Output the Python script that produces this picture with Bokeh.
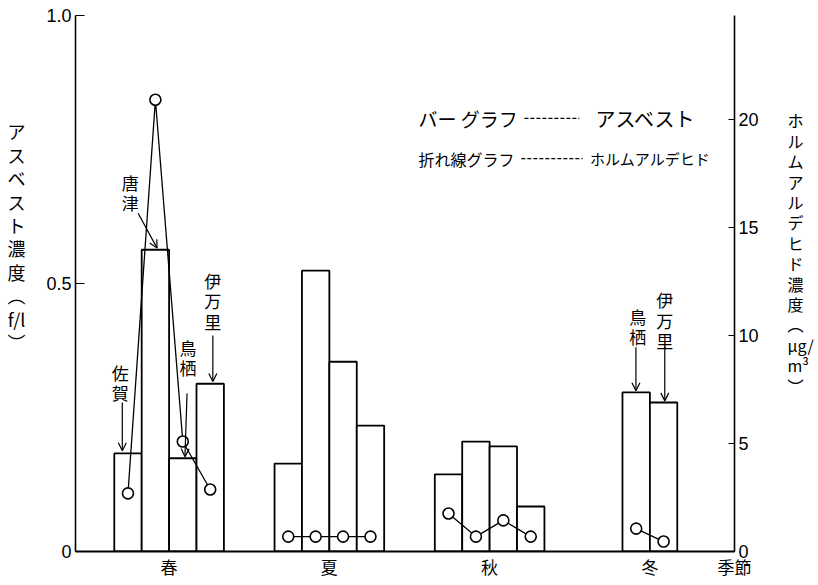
from bokeh.plotting import figure
from bokeh.models import Range1d, LinearAxis, FixedTicker, Arrow, OpenHead, ColumnDataSource
from bokeh.core.properties import value
from bokeh.embed import file_html
from bokeh.resources import INLINE

# ---------------- data ----------------
seasons = ["春", "夏", "秋", "冬"]
season_sites = [
    ["佐賀", "唐津", "鳥栖", "伊万里"],
    ["佐賀", "唐津", "鳥栖", "伊万里"],
    ["佐賀", "唐津", "鳥栖", "伊万里"],
    ["鳥栖", "伊万里"],
]
# asbestos concentration (f/l) - bars, left axis
asbestos = [
    [0.183, 0.563, 0.174, 0.313],
    [0.164, 0.524, 0.354, 0.235],
    [0.144, 0.205, 0.196, 0.084],
    [0.297, 0.278],
]
# formaldehyde concentration (ug/m3) - line, right axis
formaldehyde = [
    [2.69, 20.9, 5.09, 2.87],
    [0.69, 0.69, 0.69, 0.69],
    [1.76, 0.69, 1.44, 0.69],
    [1.06, 0.46],
]
left_ticks = [0, 0.5, 1.0]
left_tick_labels = ["0", "0.5", "1.0"]
right_ticks = [0, 5, 10, 15, 20]
x_axis_name = "季節"

# ---------------- layout constants ----------------
BAR_W = 0.171
X_END = 4.528
JP = "Noto Sans CJK JP"
LAT = "Liberation Sans"

p = figure(width=816, height=581, output_backend="svg", toolbar_location=None,
           x_range=Range1d(0.416, X_END), y_range=Range1d(0, 1.0),
           min_border_left=75, min_border_right=79, min_border_top=15,
           min_border_bottom=30)
p.outline_line_color = None
p.xgrid.visible = False
p.ygrid.visible = False
p.background_fill_color = "white"
p.border_fill_color = "white"
p.extra_y_ranges = {"right": Range1d(0, 24.8)}

# bars and line
for gi, (sites, av, fv) in enumerate(zip(season_sites, asbestos, formaldehyde)):
    n = len(sites)
    xs = [gi + 1 + (j - (n - 1) / 2) * BAR_W for j in range(n)]
    src = ColumnDataSource(dict(x=xs, a=av, f=fv, site=sites))
    p.vbar(x="x", top="a", bottom=0, width=BAR_W, source=src,
           fill_color="white", line_color="black", line_width=1.8)
    p.line(x="x", y="f", source=src, y_range_name="right",
           line_color="black", line_width=1.3)
    p.scatter(x="x", y="f", source=src, y_range_name="right", marker="circle",
              size=11, fill_color="white", line_color="black", line_width=1.6)

# x axis (season names + axis name at right end)
xa = p.xaxis[0]
name_tick = X_END - 0.0005
xa.ticker = FixedTicker(ticks=[1, 2, 3, 4, name_tick])
overrides = {i + 1: s for i, s in enumerate(seasons)}
overrides[name_tick] = x_axis_name
xa.major_label_overrides = overrides
xa.major_tick_in = 0
xa.major_tick_out = 0
xa.minor_tick_line_color = None
xa.axis_line_width = 1.8
xa.major_label_text_font = JP
xa.major_label_text_font_size = "17px"
xa.major_label_text_color = "black"
xa.major_label_standoff = 2

# left axis
left_title = "\n".join(list("アスベスト濃度") + ["︵", "f/l", "︶"] + [" "] * 4)
ya = p.yaxis[0]
ya.ticker = FixedTicker(ticks=left_ticks)
ya.major_label_overrides = {t: l for t, l in zip(left_ticks, left_tick_labels)}
ya.major_tick_in = 9
ya.major_tick_out = 0
ya.minor_tick_line_color = None
ya.axis_line_width = 1.6
ya.major_label_text_font = LAT
ya.major_label_text_font_size = "18px"
ya.major_label_text_color = "black"
ya.major_label_standoff = 4
ya.axis_label = left_title
ya.axis_label_orientation = "horizontal"
ya.axis_label_text_font = JP
ya.axis_label_text_font_size = "18px"
ya.axis_label_text_font_style = "normal"
ya.axis_label_text_color = "black"
ya.axis_label_text_line_height = 0.9
ya.axis_label_standoff = 18

# right axis
right_title = "\n".join(list("ホルムアルデヒド濃度") + ["︵", "μg/", "m³", "︶"] + [" "] * 3)
ra = LinearAxis(y_range_name="right", ticker=FixedTicker(ticks=right_ticks))
ra.major_tick_in = 6
ra.major_tick_out = 0
ra.minor_tick_line_color = None
ra.axis_line_width = 1.6
ra.major_label_text_font = LAT
ra.major_label_text_font_size = "18px"
ra.major_label_text_color = "black"
ra.major_label_standoff = 4
ra.axis_label = right_title
ra.axis_label_orientation = "horizontal"
ra.axis_label_text_font = JP
ra.axis_label_text_font_size = "16px"
ra.axis_label_text_font_style = "normal"
ra.axis_label_text_color = "black"
ra.axis_label_text_line_height = 0.85
ra.axis_label_standoff = 26
p.add_layout(ra, "right")

# ---------------- annotations ----------------
site_labels = [
    # text, label x, label y, arrow x0, y0, x1, y1
    ("佐賀", 0.696, 0.315, 0.708, 0.278, 0.708, 0.188),
    ("唐津", 0.758, 0.670, 0.807, 0.631, 0.925, 0.566),
    ("鳥栖", 1.118, 0.362, 1.112, 0.295, 1.099, 0.177),
    ("伊万里", 1.273, 0.468, 1.273, 0.403, 1.273, 0.317),
    ("鳥栖", 3.925, 0.420, 3.913, 0.381, 3.913, 0.300),
    ("伊万里", 4.093, 0.431, 4.093, 0.381, 4.093, 0.281),
]
for t, tx, ty, x0, y0, x1, y1 in site_labels:
    p.text(x=[tx], y=[ty], text=["\n".join(t)], text_font=value(JP),
           text_font_size="17px", text_align="center", text_baseline="middle",
           text_line_height=0.82, text_color="black")
    p.add_layout(Arrow(x_start=x0, y_start=y0, x_end=x1, y_end=y1,
                       line_color="black", line_width=1.2,
                       end=OpenHead(size=8, line_width=1.2, line_color="black")))

# legend text
p.text(x=[2.556], y=[0.808], text=["バー グラフ"], text_font=value(JP),
       text_font_size="19px", text_align="left", text_baseline="middle")
p.segment(x0=[3.217], y0=[0.808], x1=[3.560], y1=[0.808], line_color="black",
          line_width=1.2, line_dash="4 2")
p.text(x=[3.660], y=[0.808], text=["アスベスト"], text_font=value(JP),
       text_font_size="20px", text_align="left", text_baseline="middle")
p.text(x=[2.556], y=[0.733], text=["折れ線グラフ"], text_font=value(JP),
       text_font_size="16px", text_align="left", text_baseline="middle")
p.segment(x0=[3.198], y0=[0.733], x1=[3.580], y1=[0.733], line_color="black",
          line_width=1.2, line_dash="4 2")
p.text(x=[3.627], y=[0.733], text=["ホルムアルデヒド"], text_font=value(JP),
       text_font_size="15px", text_align="left", text_baseline="middle")

open("out.html", "w").write(file_html(p, INLINE))
